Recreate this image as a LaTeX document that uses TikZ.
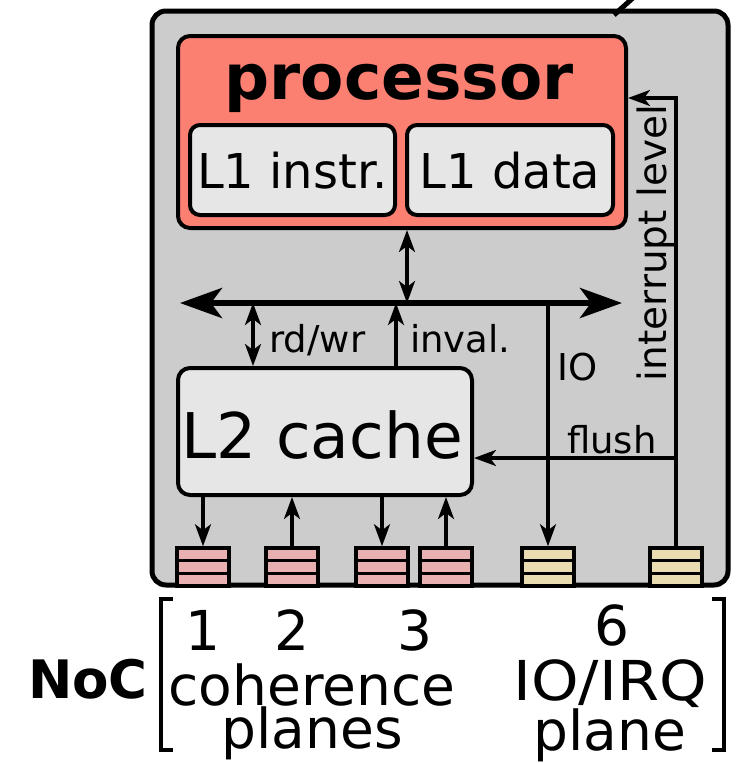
\documentclass[tikz,border=0pt]{standalone}
\usepackage{graphicx}
\usepackage{fontspec}
\setmainfont{DejaVu Sans}
\usetikzlibrary{arrows.meta,calc}
\definecolor{tilegray}{HTML}{CCCCCC}
\definecolor{cpured}{HTML}{FC8072}
\definecolor{cachegray}{HTML}{E6E6E6}
\definecolor{cohpink}{HTML}{E8B0B0}
\definecolor{ioyellow}{HTML}{E8DCB0}
\tikzset{
  tile/.style={draw, line width=5pt, fill=tilegray, rounded corners=14pt},
  unit/.style={draw, line width=4pt, rounded corners=12pt, inner sep=0pt},
  lbl/.style={font=\fontsize{37}{37}\selectfont, inner sep=0pt},
  wire/.style={line width=3.2pt},
  tip/.style={-{Stealth[length=22pt,width=16pt,inset=6pt]}},
  tips/.style={{Stealth[length=22pt,width=16pt,inset=6pt]}-{Stealth[length=22pt,width=16pt,inset=6pt]}},
  bus/.style={line width=6pt, {Stealth[length=42pt,width=30pt,inset=11pt]}-{Stealth[length=42pt,width=30pt,inset=11pt]}},
  fifo/.style={draw, line width=3.5pt, minimum width=52pt, minimum height=38pt, inner sep=0pt, fill=#1,
    path picture={
      \foreach \k in {1,2}
        \draw[line width=3.5pt]
          ($(path picture bounding box.north west)!\k/3!(path picture bounding box.south west)$) --
          ($(path picture bounding box.north east)!\k/3!(path picture bounding box.south east)$);
    }},
  big/.style={font=\fontsize{55}{43}\selectfont, inner sep=0pt, align=center}
}
\begin{document}
\begin{tikzpicture}[x=1pt, y=-1pt]
\useasboundingbox (0,0) rectangle (738,763);

% tile outline and the link leaving it
\draw[tile] (152,11) rectangle (728,585);
\coordinate (linkA) at (614,15);
\coordinate (linkB) at (634,-3);
\draw[line width=5pt] (linkA) -- (linkB);

% processor with its L1 caches
\node[unit, fill=cpured, minimum width=448pt, minimum height=192pt] (proc) at (402,132) {};
\node[font=\fontsize{63}{63}\selectfont\bfseries, inner sep=0pt, anchor=base] (ptxt) at (399,99) {processor};
\node[unit, fill=cachegray, rounded corners=10pt, minimum width=205pt, minimum height=90pt] (l1i) at (292.5,170) {};
\node[font=\fontsize{48}{48}\selectfont, inner sep=0pt, anchor=base] at (292.5,188) {L1 instr.};
\node[unit, fill=cachegray, rounded corners=10pt, minimum width=206pt, minimum height=90pt] (l1d) at (510,170) {};
\node[font=\fontsize{48}{48}\selectfont, inner sep=0pt, anchor=base] at (510,188) {L1 data};

% L2 cache
\node[unit, fill=cachegray, minimum width=294pt, minimum height=127pt] (l2) at (325,431.5) {};
\node[font=\fontsize{63}{63}\selectfont, inner sep=0pt, anchor=base] at (322,458) {L2 cache};

% on-chip bus
\coordinate (busL) at (180,303);
\coordinate (busR) at (622,303);
\draw[bus] (busL) -- (busR);

% NoC buffers
\node[fifo=cohpink] (f1) at (203,567) {};
\node[fifo=cohpink] (f2) at (292,567) {};
\node[fifo=cohpink] (f3a) at (382,567) {};
\node[fifo=cohpink] (f3b) at (446,567) {};
\node[fifo=ioyellow] (f6a) at (548,567) {};
\node[fifo=ioyellow] (f6b) at (676,567) {};

% processor <-> bus
\draw[wire, tips] ([xshift=5pt]proc.south) -- ([xshift=5pt]proc.south |- busL);

% L2 <-> bus
\draw[wire, tips] (l2.north -| f1.north) ++(50,0) coordinate (rw) -- (rw |- busL);
\node[lbl, anchor=base west] at (269,352) {rd/wr};
\draw[wire, tip] ([xshift=71pt]l2.north) -- ([xshift=71pt]l2.north |- busL);
\node[lbl, anchor=base west] at (410,352) {inval.};

% IO line from the bus to the IO plane
\draw[wire, tip] (f6a.north |- busL) -- (f6a.north);
\node[lbl, anchor=base west] at (557,380) {IO};

% interrupt level and flush from the IRQ plane
\coordinate (irqTop) at (f6b.north |- 0,98);
\draw[wire, tip] (f6b.north) -- (irqTop) -- (irqTop -| proc.east);
\node[font=\fontsize{39}{39}\selectfont, inner sep=0pt, rotate=90] at (656,243) {interrupt level};
\draw[wire, tip] (f6b.north |- 0,458) -- (f6b.north |- 0,458 -| l2.east);
\node[lbl, anchor=base west] at (567,453) {flush};

% L2 <-> coherence planes
\draw[wire, tip] (f1.north |- l2.south) -- (f1.north);
\draw[wire, tip] (f2.north) -- (f2.north |- l2.south);
\draw[wire, tip] (f3a.north |- l2.south) -- (f3a.north);
\draw[wire, tip] (f3b.north) -- (f3b.north |- l2.south);

% NoC plane legend
\node[font=\fontsize{53}{53}\selectfont\bfseries, inner sep=0pt, anchor=base] (noc) at (88,698) {NoC};
\draw[line width=3.5pt] (173,599) -- (161,599) -- (161,750) -- (173,750);
\draw[line width=3.5pt] (712,599) -- (724,599) -- (724,750) -- (712,750);
\node[big, anchor=base] at (203,650) {1};
\node[big, anchor=base] at (292,650) {2};
\node[big, anchor=base] at (415,650) {3};
\node[big, anchor=base] at (612,645) {6};
\node[big] at (312,712) {coherence\\planes};
\node[big] at (610,711) {\scalebox{1.1}[1]{IO/IRQ}\\plane};
\end{tikzpicture}
\end{document}
